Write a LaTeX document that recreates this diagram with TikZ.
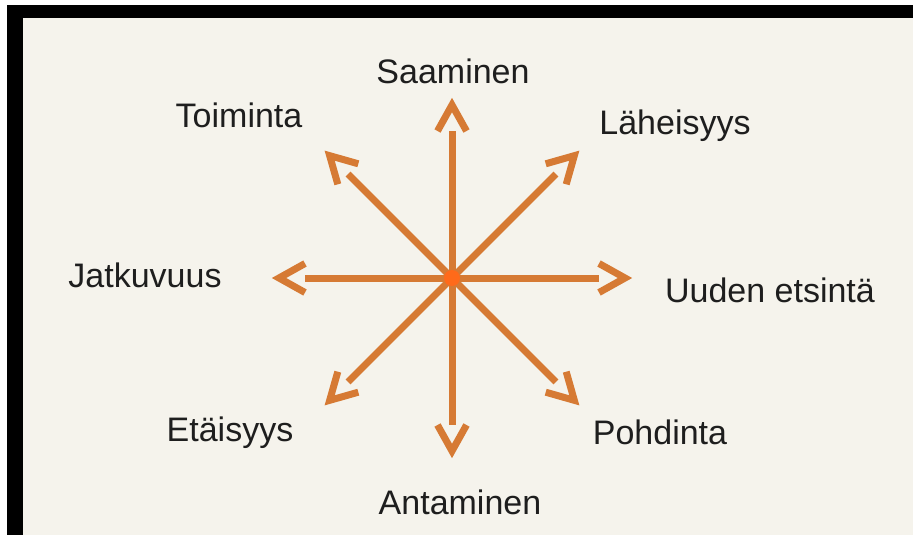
\documentclass[tikz,border=0pt]{standalone}
\usepackage{fontspec}
\setmainfont{Liberation Sans}
\usetikzlibrary{arrows.meta, positioning, calc}
\definecolor{paper}{HTML}{F5F3EC}
\definecolor{rayorange}{HTML}{D67A34}
\definecolor{hubred}{HTML}{FF6A1A}
\definecolor{inkdark}{HTML}{1E1E1E}
% open chevron tip, the shaft stops at its back
\pgfdeclarearrow{
  name = Chevron,
  parameters = {\the\pgfarrowlength,\the\pgfarrowwidth},
  setup code = {
    \pgfarrowssettipend{0pt}
    \pgfarrowssetbackend{-\pgfarrowlength}
    \pgfarrowssetlineend{-\pgfarrowlength-3pt}
    \pgfarrowssetvisualbackend{-\pgfarrowlength}
    \pgfarrowshullpoint{0pt}{0pt}
    \pgfarrowsupperhullpoint{-\pgfarrowlength}{.5\pgfarrowwidth}
    \pgfarrowssavethe\pgfarrowlength
    \pgfarrowssavethe\pgfarrowwidth
  },
  drawing code = {
    \pgfsetmiterjoin
    \pgfsetbuttcap
    \pgfpathmoveto{\pgfqpoint{-\pgfarrowlength}{.5\pgfarrowwidth}}
    \pgfpathlineto{\pgfpointorigin}
    \pgfpathlineto{\pgfqpoint{-\pgfarrowlength}{-.5\pgfarrowwidth}}
    \pgfusepathqstroke
  },
  defaults = {length = 26pt, width = 28pt}
}

\begin{document}
\begin{tikzpicture}[x=1pt, y=1pt,
      ray/.style={draw=rayorange, line width=7pt, -{Chevron[length=26pt, width=29pt]}},
      hub/.style={circle, fill=hubred, inner sep=0pt, minimum size=16pt},
      lbl/.style={anchor=base, text=inkdark, inner sep=0pt,
                  font=\fontsize{34}{40}\selectfont}]
    % frame and paper
    \useasboundingbox (0,0) rectangle (919,-535);
    \fill[white] (0,0) rectangle (919,-535);
    \fill[black] (7,-5) rectangle (913,-18);
    \fill[black] (7,-5) rectangle (23,-535);
    \fill[paper] (23,-18) rectangle (913,-535);
    \node[hub] (c) at (452,-278) {};
    \foreach \n/\a in {n/90, ne/45, e/0, se/-45, s/-90, sw/-135, w/180, nw/135}
      \coordinate (t\n) at ($(c)+(\a:173)$);
    \foreach \n in {n, ne, e, se, s, sw, w, nw}
      \draw[ray] (c.center) -- (t\n);
    \node[hub] at (c) {};
    \node[lbl] (saam) at (453,-84)  {Saaminen};
    \node[lbl] (lahe) at (675,-134) {Läheisyys};
    \node[lbl] (toim) at (239,-127) {Toiminta};
    \node[lbl] (jatk) at (145,-287) {Jatkuvuus};
    \node[lbl] (uude) at (770,-302) {Uuden etsintä};
    \node[lbl] (etai) at (230,-441) {Etäisyys};
    \node[lbl] (pohd) at (660,-444) {Pohdinta};
    \node[lbl] (anta) at (460,-514) {Antaminen};
\end{tikzpicture}
\end{document}
